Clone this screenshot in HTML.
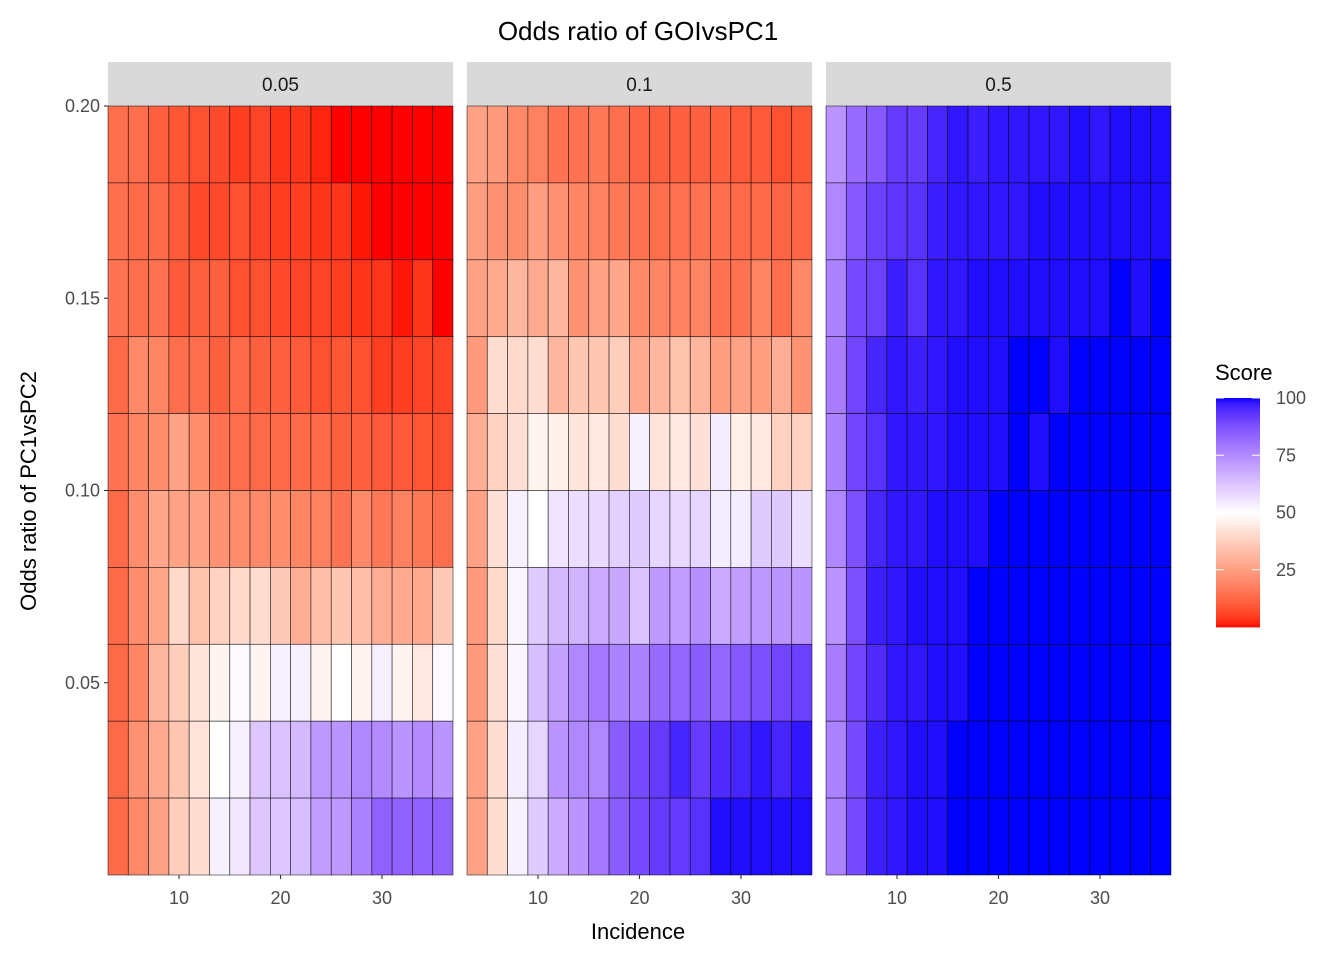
<!DOCTYPE html>
<html><head><meta charset="utf-8">
<style>
body{margin:0;background:#fff;}
svg{display:block;font-family:"Liberation Sans",Arial,sans-serif;}
</style></head>
<body>
<svg id="chart" width="1344" height="960" viewBox="0 0 1344 960">
<rect width="1344" height="960" fill="#fff"/>
<text x="638" y="40" text-anchor="middle" font-size="26" fill="#000">Odds ratio of GOIvsPC1</text>
<g id="panels"></g>
<text x="638" y="939" text-anchor="middle" font-size="22" fill="#000">Incidence</text>
<text transform="translate(36,491) rotate(-90)" text-anchor="middle" font-size="22" fill="#000">Odds ratio of PC1vsPC2</text>
<g id="legend">
<text x="1215" y="380" font-size="22" fill="#000">Score</text>
</g>
</svg>
<script>
const facets = ["0.05","0.1","0.5"];
const incidence = [4,6,8,10,12,14,16,18,20,22,24,26,28,30,32,34,36];
const oddsRows = [0.19,0.17,0.15,0.13,0.11,0.09,0.07,0.05,0.03,0.01];
const xTicks = [10,20,30];
const yTicks = [0.05,0.10,0.15,0.20];
const yTickLabels = ["0.05","0.10","0.15","0.20"];
const legendTicks = [25,50,75,100];
const scores005 = [
[14,14,11,9,8,7,5,6,4,4,2,0,0,0,0,0,0],
[14,13,13,10,7,7,8,6,5,5,4,4,1,0,0,0,0],
[15,14,15,10,11,11,8,8,7,6,6,5,4,4,1,4,0],
[13,20,19,14,14,11,13,11,11,10,8,9,8,5,5,6,6],
[15,19,21,26,21,15,14,13,13,13,13,11,11,10,10,9,8],
[13,21,27,26,26,22,21,20,21,19,18,15,20,16,18,16,14],
[13,21,27,40,34,38,40,41,36,29,33,35,33,29,28,28,36],
[13,19,31,37,43,47,51,47,53,53,47,50,47,53,47,44,51],
[13,22,28,35,43,50,53,62,63,65,72,73,76,75,73,75,73],
[13,20,26,37,41,53,55,62,62,64,71,72,77,84,84,84,84]];
const scores01 = [
[26,24,20,18,15,15,16,14,12,11,11,11,11,10,10,8,9],
[25,22,21,25,22,19,18,16,15,14,15,15,14,13,13,12,12],
[26,28,31,28,31,22,26,27,20,19,18,19,15,15,19,14,20],
[24,41,40,41,31,35,35,37,28,31,34,31,25,26,25,29,22],
[29,38,42,47,46,43,44,41,53,43,44,42,54,46,44,38,38],
[26,42,53,50,56,57,58,60,61,59,58,59,54,54,61,61,57],
[24,40,52,61,65,66,68,69,63,72,71,74,68,71,72,73,73],
[24,42,52,64,70,76,79,77,77,82,83,85,83,86,88,90,91],
[26,41,54,59,73,76,76,85,89,92,96,92,95,96,98,96,98],
[26,41,53,61,68,73,79,85,89,92,92,94,99,99,99,99,99]];
const scores05 = [
[73,82,86,92,92,96,98,97,98,98,98,98,99,98,99,99,99],
[76,86,91,93,94,97,98,98,98,98,99,99,99,99,99,99,99],
[77,89,91,97,94,98,98,99,99,99,99,99,99,99,100,99,100],
[78,90,96,98,97,98,99,99,99,100,100,99,100,100,100,100,100],
[77,90,94,98,98,98,99,99,99,100,99,100,100,100,100,100,100],
[76,88,96,98,98,99,99,99,100,100,100,100,100,100,100,100,100],
[73,88,97,98,99,99,99,100,100,100,100,100,100,100,100,100,100],
[78,90,95,98,98,99,99,100,100,100,100,100,100,100,100,100,100],
[77,89,97,98,99,99,100,100,100,100,100,100,100,100,100,100,100],
[77,89,97,98,99,99,100,100,100,100,100,100,100,100,100,100,100]];
const allScores = [scores005, scores01, scores05];

function toLin(c){c/=255;return c<=0.04045?c/12.92:Math.pow((c+0.055)/1.055,2.4);}
function fromLin(c){c=c<=0.0031308?12.92*c:1.055*Math.pow(c,1/2.4)-0.055;return Math.round(Math.max(0,Math.min(1,c))*255);}
function rgb2lab(r,g,b){r=toLin(r);g=toLin(g);b=toLin(b);
 let X=(r*0.4124+g*0.3576+b*0.1805)/0.95047,Y=r*0.2126+g*0.7152+b*0.0722,Z=(r*0.0193+g*0.1192+b*0.9505)/1.08883;
 const f=t=>t>0.008856?Math.cbrt(t):7.787*t+16/116;
 X=f(X);Y=f(Y);Z=f(Z);return [116*Y-16,500*(X-Y),200*(Y-Z)];}
function lab2rgb(L,a,b){let Y=(L+16)/116,X=a/500+Y,Z=Y-b/200;
 const f=t=>t*t*t>0.008856?t*t*t:(t-16/116)/7.787;
 X=f(X)*0.95047;Y=f(Y);Z=f(Z)*1.08883;
 const r=X*3.2406+Y*-1.5372+Z*-0.4986,g=X*-0.9689+Y*1.8758+Z*0.0415,bb=X*0.0557+Y*-0.2040+Z*1.0570;
 return `rgb(${fromLin(r)},${fromLin(g)},${fromLin(bb)})`;}
const LR=rgb2lab(255,0,0),LW=rgb2lab(255,255,255),LB=rgb2lab(0,0,255);
function colorOf(v){let a,b,t;if(v<50){a=LR;b=LW;t=v/50;}else{a=LW;b=LB;t=(v-50)/50;}
 t=Math.max(0,Math.min(1,t));return lab2rgb(a[0]+(b[0]-a[0])*t,a[1]+(b[1]-a[1])*t,a[2]+(b[2]-a[2])*t);}

const NS="http://www.w3.org/2000/svg";
function mk(tag,attrs,parent){const e=document.createElementNS(NS,tag);for(const k in attrs)e.setAttribute(k,attrs[k]);parent.appendChild(e);return e;}
const panelX=[108,467,826], panelW=345, pTop=106, pBottom=875;
const xMin=3,xMax=37,yMin=0,yMax=0.20;
const panelsG=document.getElementById('panels');
function sx(px,v){return px+(v-xMin)/(xMax-xMin)*panelW;}
function sy(v){return pBottom-(v-yMin)/(yMax-yMin)*(pBottom-pTop);}

facets.forEach((f,pi)=>{
 const px=panelX[pi];
 const g=mk('g',{},panelsG);
 
 
 const strip=mk('rect',{x:px,y:62,width:panelW,height:44,fill:'#d9d9d9'},g);
 
 
 const st=mk('text',{x:px+panelW/2,y:91,'text-anchor':'middle','font-size':19,fill:'#1a1a1a'},g);
 st.textContent=f;
 
 
 const data=allScores[pi];
 oddsRows.forEach((yv,ri)=>{
  incidence.forEach((xv,ci)=>{
   const x0=sx(px,xv-1),x1=sx(px,xv+1),y0=sy(yv+0.01),y1=sy(yv-0.01);
   const r=mk('rect',{x:x0,y:y0,width:x1-x0,height:y1-y0,fill:colorOf(data[ri][ci]),stroke:'rgba(0,0,0,0.7)','stroke-width':0.7},g);
   
   
  });
 });
 xTicks.forEach(t=>{
  const x=sx(px,t);
  const tk=mk('line',{x1:x,x2:x,y1:pBottom,y2:pBottom+4,stroke:'#333','stroke-width':1.1},g);
  
  
  const tl=mk('text',{x:x,y:904,'text-anchor':'middle','font-size':18,fill:'#4d4d4d'},g);
  tl.textContent=t;
  
  
 });
});
yTicks.forEach((t,i)=>{
 const y=sy(t);
 const tk=mk('line',{x1:104,x2:108,y1:y,y2:y,stroke:'#333','stroke-width':1.1},panelsG);
 
 
 const tl=mk('text',{x:100,y:y+6,'text-anchor':'end','font-size':18,fill:'#4d4d4d'},panelsG);
 tl.textContent=yTickLabels[i];
 
 
});
const lg=document.getElementById('legend');
const lTop=398,lBot=627,lx=1216,lw=44;
const ly=v=>lBot-(v/100)*(lBot-lTop);
for(let v=0;v<100;v+=0.5){
 const r=mk('rect',{x:lx,y:ly(v+0.5),width:lw,height:ly(v)-ly(v+0.5)+0.4,fill:colorOf(v+0.25)},lg);
 
 
}
legendTicks.forEach(t=>{
 const y=ly(t);
 mk('line',{x1:lx,x2:lx+8,y1:y,y2:y,stroke:'#fff','stroke-width':1},lg);
 mk('line',{x1:lx+lw-8,x2:lx+lw,y1:y,y2:y,stroke:'#fff','stroke-width':1},lg);
 const tl=mk('text',{x:1276,y:y+6,'font-size':18,fill:'#4d4d4d'},lg);
 tl.textContent=t;
 
 
});
</script>
</body></html>
